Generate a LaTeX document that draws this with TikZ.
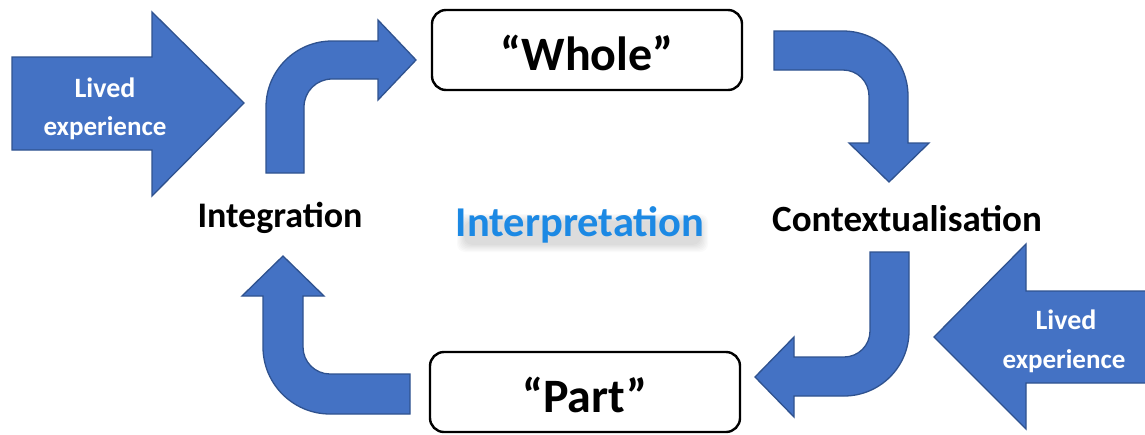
\documentclass[tikz,border=0pt]{standalone}
\usepackage{fontspec}
\setmainfont{Carlito}
\definecolor{arrowfill}{HTML}{4472C4}
\definecolor{arrowline}{HTML}{2F528F}
\definecolor{interblue}{RGB}{28,137,228}
\tikzset{
  blockarrow/.style={fill=arrowfill, draw=arrowline, line width=1.3pt, line join=miter},
  box/.style={draw=black, line width=2.4pt, rounded corners=14pt, fill=white,
    minimum width=310pt, minimum height=80pt, inner sep=0pt,
    text height=40pt, text depth=0pt,
    font=\fontsize{48}{52}\selectfont\bfseries},
  label/.style={anchor=base, inner sep=0pt, font=\fontsize{36}{40}\selectfont\bfseries},
  livedtop/.style={anchor=base, inner sep=0pt, text=white, font=\fontsize{28}{30}\selectfont\bfseries},
  livedbot/.style={anchor=base, inner sep=0pt, text=white, font=\fontsize{27}{30}\selectfont\bfseries},
  softlayer/.style={fill=black, opacity=0.02, rounded corners=8pt}
}
\begin{document}
\begin{tikzpicture}[x=1pt, y=-1pt]
\clip (0,0) rectangle (1145,434);
\fill[white] (0,0) rectangle (1145,434);

% left big arrow
\draw[blockarrow] (12,57) -- (152,57) -- (152,12) -- (244,103) -- (152,196) -- (152,150) -- (12,150) -- cycle;
\node[livedtop] (lived1) at (105,97) {Lived};
\node[livedbot] (exp1) at (105,135) {experience};

% right big arrow
\draw[blockarrow] (1150,291) -- (1026,291) -- (1026,244) -- (934,337) -- (1026,429) -- (1026,383) -- (1150,383) -- cycle;
\node[livedtop] (lived2) at (1066,329) {Lived};
\node[livedbot] (exp2) at (1064,368) {experience};

% arrow up then right (Integration -> Whole)
\draw[blockarrow] (266,173) -- (266,107) .. controls (266,70.6) and (295.6,41) .. (332,41)
  -- (378,41) -- (378,20) -- (416,60) -- (378,100) -- (378,79) -- (332,79)
  .. controls (316.5,79) and (304,91.5) .. (304,107) -- (304,173) -- cycle;

% arrow right then down (Whole -> Contextualisation)
\draw[blockarrow] (774,31) -- (843,31) .. controls (878.9,31) and (908,60.1) .. (908,96)
  -- (908,143) -- (929,143) -- (889,182) -- (849,143) -- (869,143) -- (869,96)
  .. controls (869,81.6) and (857.4,70) .. (843,70) -- (774,70) -- cycle;

% arrow down then left (Contextualisation -> Part)
\draw[blockarrow] (870,252) -- (909,252) -- (909,331) .. controls (909,366.9) and (879.9,396) .. (844,396)
  -- (794,396) -- (794,417) -- (755,377) -- (794,337) -- (794,357) -- (844,357)
  .. controls (858.4,357) and (870,345.4) .. (870,331) -- cycle;

% arrow left then up (Part -> Integration)
\draw[blockarrow] (410,374) -- (330,374) .. controls (315.1,374) and (303,361.9) .. (303,347)
  -- (303,296) -- (324,296) -- (283,256) -- (242,296) -- (263,296) -- (263,347)
  .. controls (263,384) and (293,414) .. (330,414) -- (410,414) -- cycle;

% boxes
\node[box] (whole) at (587,50) {“Whole”};
\node[box] (part) at (585,392) {“Part”};

% labels
\node[label] (integ) at (280,227) {Integration};
\node[label, font=\fontsize{37}{40}\selectfont\bfseries] (context) at (907,231) {Contextualisation};

% soft shadow behind Interpretation
\foreach \i in {0,1.2,2.4,3.6,4.8,6,7.2} {
  \fill[softlayer] (457+\i,214+\i) rectangle (708-\i,252-\i);
}
\node[anchor=base, inner sep=0pt, text=interblue, font=\fontsize{42.5}{46}\selectfont\bfseries] (interp) at (580,236) {Interpretation};
\end{tikzpicture}
\end{document}
